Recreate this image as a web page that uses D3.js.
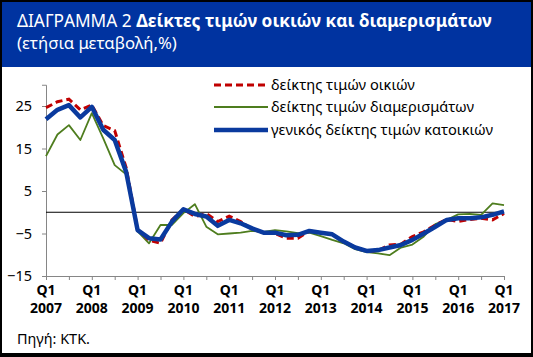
<!DOCTYPE html>
<html><head><meta charset="utf-8">
<script src="https://cdn.jsdelivr.net/npm/d3@7"></script>
<style>
html,body{margin:0;padding:0;background:#000;}
svg{display:block;}
text{font-family:"Noto Sans","Open Sans",sans-serif;}
</style></head>
<body>
<script>
// ---- data ----
const quarters = d3.range(41).map(i => ({year: 2007 + Math.floor(i / 4), q: (i % 4) + 1}));
const tickYears = ["2007","2008","2009","2010","2011","2012","2013","2014","2015","2016","2017"];
const yTicks = [25, 15, 5, -5, -15];
const seriesNames = ["δείκτης τιμών οικιών", "δείκτης τιμών διαμερισμάτων", "γενικός δείκτης τιμών κατοικιών"];
const houses = [24.6, 26.0, 26.6, 24.1, 25.2, 20.4, 19.2, 10.5, -4.0, -6.6, -7.3, -1.8, 0.7, -1.0, -0.3, -2.2, -0.9, -2.2, -4.0, -4.8, -5.0, -6.1, -6.1, -4.4, -4.8, -5.2, -7.0, -8.2, -9.2, -9.0, -7.7, -7.5, -5.7, -4.6, -3.0, -1.7, -2.2, -1.7, -1.4, -1.8, -0.3];
const apartments = [13.2, 18.3, 20.5, 17.0, 23.3, 17.4, 11.1, 8.9, -4.5, -7.3, -3.0, -3.0, -0.2, 1.9, -3.4, -5.2, -5.0, -4.8, -4.4, -4.6, -4.2, -4.5, -4.9, -4.8, -5.6, -6.5, -7.3, -8.7, -9.4, -9.7, -10.1, -8.3, -7.6, -5.7, -2.8, -1.8, -0.5, -0.4, -0.6, 2.1, 1.7];
const general = [21.9, 24.1, 25.2, 22.3, 24.8, 19.4, 17.0, 9.5, -4.2, -6.1, -6.4, -2.2, 0.7, -0.4, -1.0, -3.2, -1.8, -2.6, -3.8, -4.8, -4.8, -5.4, -5.3, -4.4, -4.8, -5.2, -6.9, -8.3, -9.1, -8.9, -8.3, -7.7, -6.5, -5.0, -3.4, -1.8, -1.4, -1.4, -1.2, -0.6, 0.2];

const W = 533, H = 357;
const svg = d3.select("body").append("svg").attr("width", W).attr("height", H);

// frame
svg.append("rect").attr("x", 0).attr("y", 0).attr("width", W).attr("height", H).attr("fill", "#000");
svg.append("rect").attr("x", 2).attr("y", 2).attr("width", 529).attr("height", 351).attr("fill", "#fff");
svg.append("rect").attr("x", 2).attr("y", 2).attr("width", 529).attr("height", 65).attr("fill", "#0033A0");

function fit(sel, width) {
  const n = sel.node();
  const fs = parseFloat(sel.attr("font-size"));
  const w = n.getComputedTextLength();
  sel.attr("font-size", (fs * width / w).toFixed(2));
}

// title
const t1 = svg.append("text").attr("x", 17).attr("y", 27).attr("fill", "#fff").attr("font-size", 20);
t1.append("tspan").text("ΔΙΑΓΡΑΜΜΑ 2 ");
t1.append("tspan").attr("font-weight", "bold").text("Δείκτες τιμών οικιών και διαμερισμάτων");
fit(t1, 475);
const t2 = svg.append("text").attr("x", 17).attr("y", 49).attr("fill", "#fff").attr("font-size", 16)
  .text("(ετήσια μεταβολή,%)");
fit(t2, 160);

// scales
const x = d3.scaleLinear().domain([0, 40]).range([46, 504]);
const y = d3.scaleLinear().domain([-15, 30]).range([276, 84.75]);

// y axis
const yAxis = svg.append("g").attr("transform", "translate(46,0)")
  .call(d3.axisLeft(y).tickValues(yTicks).tickSize(4).tickPadding(10).tickFormat(d3.format("d")));
yAxis.select(".domain").attr("stroke", "#868686");
yAxis.selectAll(".tick line").attr("stroke", "#868686");
yAxis.selectAll(".tick text").attr("font-size", 14.5).attr("fill", "#000")
  .attr("font-family", '"Noto Sans",sans-serif');

// x axis
const xAxis = svg.append("g").attr("transform", "translate(0,276)")
  .call(d3.axisBottom(x).tickValues(d3.range(0, 41, 2)).tickSize(4).tickFormat(""));
xAxis.select(".domain").attr("stroke", "#868686");
xAxis.selectAll(".tick line").attr("stroke", "#868686");
const xl = svg.append("g");
tickYears.forEach((yr, k) => {
  const xi = x(k * 4);
  xl.append("text").attr("x", xi).attr("y", 295).attr("text-anchor", "middle")
    .attr("font-size", 14).attr("font-weight", "bold").text("Q1");
  xl.append("text").attr("x", xi).attr("y", 313).attr("text-anchor", "middle")
    .attr("font-size", 14).attr("font-weight", "bold").text(yr);
});

// zero line
svg.append("line").attr("x1", 46).attr("x2", 504).attr("y1", y(0)).attr("y2", y(0))
  .attr("stroke", "#000").attr("stroke-width", 1.2);

// lines
const line = d3.line().x((d, i) => x(i)).y(d => y(d));
svg.append("path").datum(apartments).attr("d", line).attr("fill", "none")
  .attr("stroke", "#4E7D1E").attr("stroke-width", 1.8).attr("stroke-linejoin", "round");
svg.append("path").datum(houses).attr("d", line).attr("fill", "none")
  .attr("stroke", "#C00000").attr("stroke-width", 3).attr("stroke-dasharray", "7,4");
svg.append("path").datum(general).attr("d", line).attr("fill", "none")
  .attr("stroke", "#0A3A9E").attr("stroke-width", 4.5).attr("stroke-linejoin", "round");

// legend
const legStyles = [
  {c: "#C00000", w: 3, dash: "7,4"},
  {c: "#4E7D1E", w: 1.8, dash: null},
  {c: "#0A3A9E", w: 4.5, dash: null}
];
const legY = [85, 107, 130];
seriesNames.forEach((name, k) => {
  const s = legStyles[k];
  const l = svg.append("line").attr("x1", 214).attr("x2", 268).attr("y1", legY[k]).attr("y2", legY[k])
    .attr("stroke", s.c).attr("stroke-width", s.w);
  if (s.dash) l.attr("stroke-dasharray", s.dash);
  const t = svg.append("text").attr("x", 271).attr("y", legY[k] + 5).attr("font-size", 14).text(name);
  if (k === 2) fit(t, 222);
});
const legFs = svg.selectAll("text").filter(function(){return d3.select(this).text() === seriesNames[2];}).attr("font-size");
svg.selectAll("text").filter(function(){const tx = d3.select(this).text(); return tx === seriesNames[0] || tx === seriesNames[1];}).attr("font-size", legFs);

// footer
const f = svg.append("text").attr("x", 17).attr("y", 344).attr("font-size", 14).text("Πηγή: ΚΤΚ.");
fit(f, 73);
</script>
</body></html>
